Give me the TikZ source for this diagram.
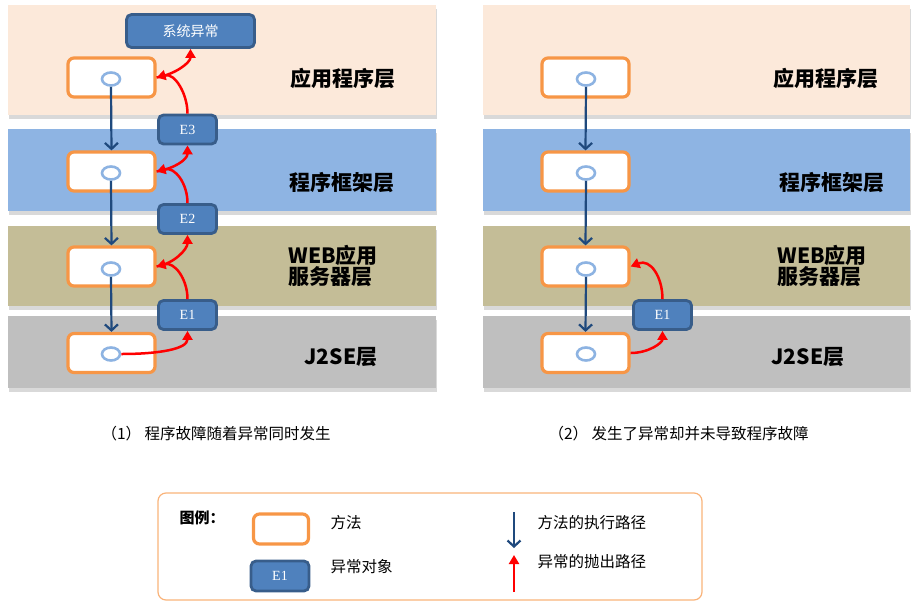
\documentclass[tikz,border=0pt]{standalone}
\usepackage{fontspec}
\setmainfont{Noto Sans CJK SC}
\newfontfamily\eserif{Liberation Serif}
\usetikzlibrary{arrows.meta,shapes.geometric,shadows}
\definecolor{peach}{HTML}{FCE9DA}
\definecolor{skyband}{HTML}{8EB4E3}
\definecolor{oliveband}{HTML}{C4BD97}
\definecolor{grayband}{HTML}{BFBFBF}
\definecolor{methodorange}{HTML}{F79646}
\definecolor{legendorange}{HTML}{F9B37A}
\definecolor{excfill}{HTML}{4F81BD}
\definecolor{excline}{HTML}{385D8A}
\definecolor{dotblue}{HTML}{8DB3E2}
\definecolor{callblue}{HTML}{1F497D}
\begin{document}
\begin{tikzpicture}[x=1pt,y=-1pt,
	band/.style={drop shadow={opacity=0.3,shadow xshift=1pt,shadow yshift=-4pt}},
	method/.style={rectangle,draw=methodorange,line width=3.2pt,fill=white,rounded corners=6pt,minimum width=87pt,minimum height=39pt},
	exc/.style={rectangle,draw=excline,line width=2.8pt,fill=excfill,rounded corners=5pt,minimum width=58pt,minimum height=29pt,text=white,font=\eserif\fontsize{14}{14}\selectfont},
	dot/.style={ellipse,draw=dotblue,line width=2.6pt,fill=white,minimum width=18pt,minimum height=13pt,inner sep=0pt},
	call/.style={line width=2.2pt,color=callblue,-{Straight Barb[length=6pt,width=13pt]}},
	throw/.style={line width=2.5pt,color=red,-{Triangle[length=9pt,width=10pt]}},
	layer/.style={font=\bfseries\fontsize{21}{21}\selectfont,align=left},
	caption/.style={font=\fontsize{15.5}{17}\selectfont}]
		\useasboundingbox (0,0) rectangle (919,603);
		%layers
		\fill[peach,band] (8,5) rectangle (436,115);
		\fill[skyband,band] (8,129) rectangle (436,211);
		\fill[oliveband,band] (8,226) rectangle (436,306);
		\fill[grayband,band] (8,316) rectangle (436,388);
		\fill[peach,band] (483,5) rectangle (910,115);
		\fill[skyband,band] (483,129) rectangle (910,211);
		\fill[oliveband,band] (483,226) rectangle (910,306);
		\fill[grayband,band] (483,316) rectangle (910,388);
		%layer labels
		\node[layer](lblAppL) at (343,78) {应用程序层};
		\node[layer](lblFwL) at (342,183) {程序框架层};
		\node[layer,anchor=west](lblWebL) at (285,266) {WEB应用\\服务器层};
		\node[layer](lblJseL) at (341,357) {J2SE层};
		\node[layer](lblAppR) at (826,78) {应用程序层};
		\node[layer](lblFwR) at (832,183) {程序框架层};
		\node[layer,anchor=west](lblWebR) at (774,266) {WEB应用\\服务器层};
		\node[layer](lblJseR) at (808,357) {J2SE层};
		%methods, left
		\node[method](appL) at (111.5,77.5) {};
		\node[method](fwL) at (111.5,171.5) {};
		\node[method](webL) at (111.5,266.5) {};
		\node[method](jseL) at (111.5,353) {};
		\node[dot](dotAppL) at (111,79) {};
		\node[dot](dotFwL) at (111,173) {};
		\node[dot](dotWebL) at (111,269) {};
		\node[dot](dotJseL) at (111,354) {};
		%methods, right
		\node[method](appR) at (585.5,77.5) {};
		\node[method](fwR) at (585.5,171.5) {};
		\node[method](webR) at (585.5,266.5) {};
		\node[method](jseR) at (585.5,353) {};
		\node[dot](dotAppR) at (586,79) {};
		\node[dot](dotFwR) at (586,173) {};
		\node[dot](dotWebR) at (586,269) {};
		\node[dot](dotJseR) at (586,354) {};
		%exceptions
		\node[exc,minimum width=128pt,minimum height=33pt,font=\fontsize{14}{14}\selectfont](sysExc) at (190.5,31) {系统异常};
		\node[exc](e3L) at (187.5,129.5) {E3};
		\node[exc](e2L) at (187.5,219) {E2};
		\node[exc](e1L) at (187.5,315) {E1};
		\node[exc](e1R) at (662.5,315) {E1};
		%call arrows
		\draw[call] (dotAppL.south) -- (fwL.north);
		\draw[call] (dotFwL.south) -- (webL.north);
		\draw[call] (dotWebL.south) -- (jseL.north);
		\draw[call] (dotAppR.south) -- (fwR.north);
		\draw[call] (dotFwR.south) -- (webR.north);
		\draw[call] (dotWebR.south) -- (jseR.north);
		%throw arrows
		\draw[throw] (dotJseL.east) .. controls +(38,0) and +(0,18) .. (e1L.south);
		\draw[throw] (e1L.north) .. controls +(0,-20) and +(18,-5) .. (webL.east);
		\draw[throw] (webL.east) .. controls +(18,-3) and +(0,14) .. (e2L.south);
		\draw[throw] (e2L.north) .. controls +(0,-20) and +(18,-5) .. (fwL.east);
		\draw[throw] (fwL.east) .. controls +(18,-3) and +(0,14) .. (e3L.south);
		\draw[throw] (e3L.north) .. controls +(0,-20) and +(18,-5) .. (appL.east);
		\draw[throw] (appL.east) .. controls +(18,-3) and +(0,14) .. (sysExc.south);
		\draw[throw] (jseR.east) .. controls +(18,0) and +(0,12) .. (e1R.south);
		\draw[throw] (e1R.north) .. controls +(0,-22) and +(20,-8) .. (webR.east);
		%captions
		\node[caption,anchor=west](capL) at (98,434) {（1） 程序故障随着异常同时发生};
		\node[caption,anchor=west](capR) at (545,434) {（2） 发生了异常却并未导致程序故障};
		%legend
		\draw[legendorange,line width=1.2pt,rounded corners=8pt] (158,493) rectangle (702,600);
		\node[caption,anchor=west,font=\bfseries\fontsize{15}{17}\selectfont](lgTitle) at (176,518) {图例：};
		\node[method,minimum width=55pt,minimum height=30pt](lgMethod) at (281,529) {};
		\node[exc,minimum height=30pt](lgExc) at (280,576) {E1};
		\node[caption,anchor=west](lgMethodTxt) at (327,523) {方法};
		\node[caption,anchor=west](lgExcTxt) at (327,567) {异常对象};
		\coordinate (lgCallTop) at (514,512);
		\coordinate (lgCallEnd) at (514,548);
		\coordinate (lgThrowBot) at (514,592);
		\coordinate (lgThrowEnd) at (514,555);
		\draw[call] (lgCallTop) -- (lgCallEnd);
		\draw[throw] (lgThrowBot) -- (lgThrowEnd);
		\node[caption,anchor=west](lgCallTxt) at (534,523) {方法的执行路径};
		\node[caption,anchor=west](lgThrowTxt) at (534,562) {异常的抛出路径};
		\end{tikzpicture}
\end{document}
